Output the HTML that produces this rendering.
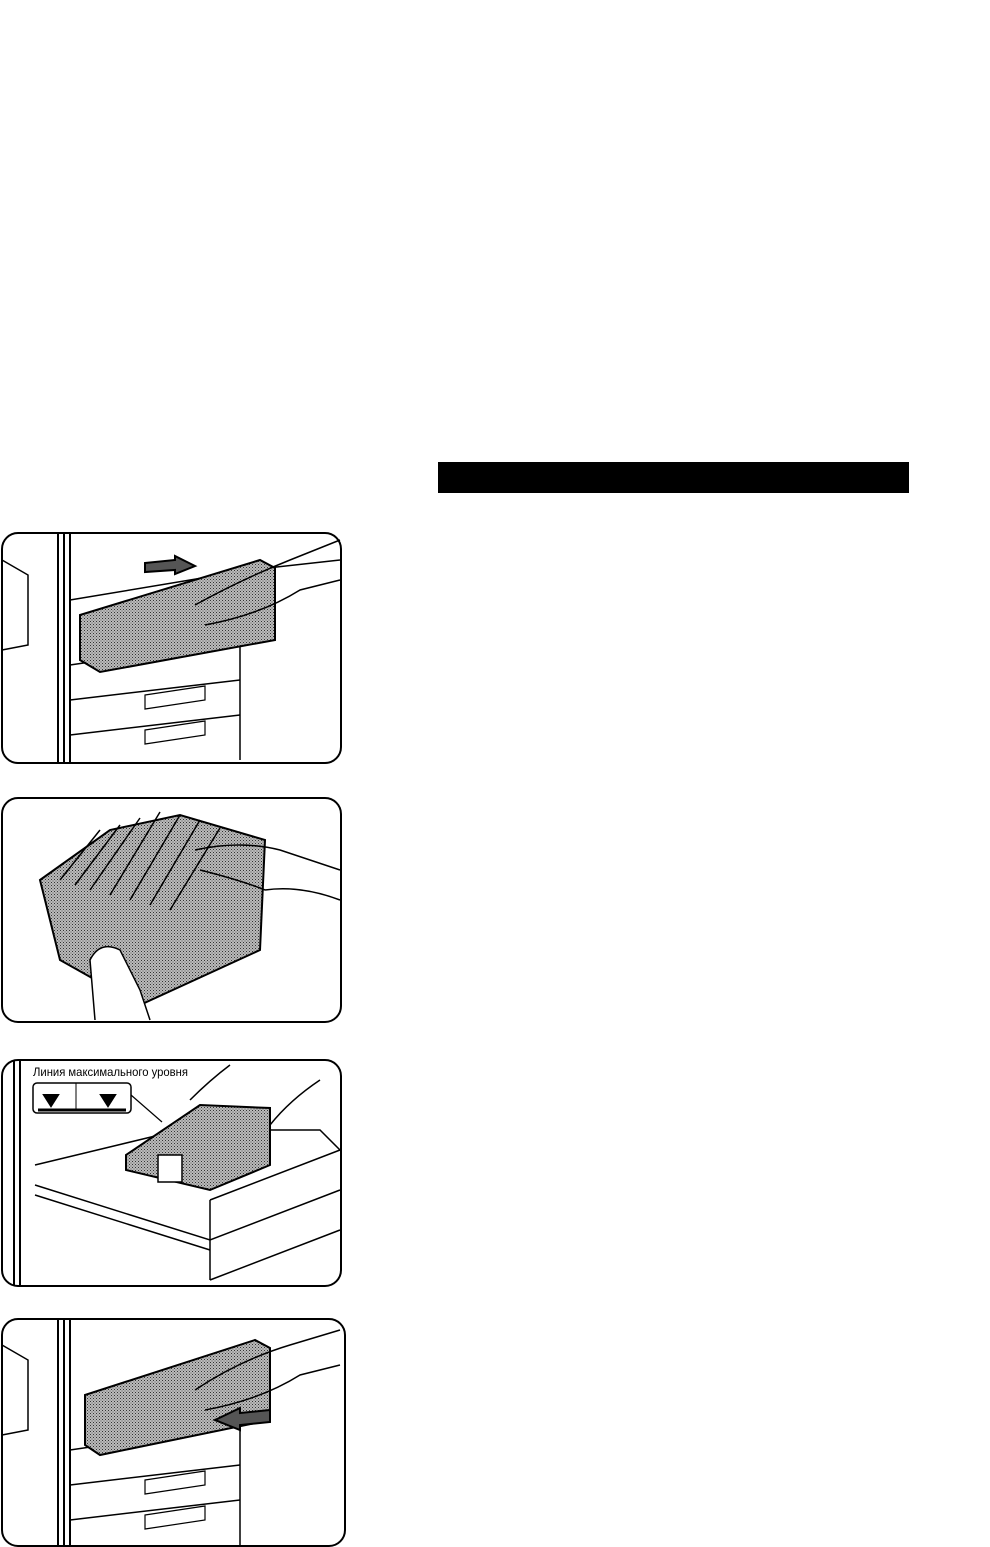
<!DOCTYPE html>
<html><head><meta charset="utf-8"><style>
html,body{margin:0;padding:0;background:#fff;}
body{width:990px;height:1547px;position:relative;overflow:hidden;font-family:"Liberation Sans",sans-serif;}
.bar{position:absolute;left:438px;top:462px;width:471px;height:31px;background:#000;}
svg{position:absolute;left:0;top:0;}
</style></head><body>
<div class="bar"></div>
<svg width="990" height="1547" viewBox="0 0 990 1547">
<defs>
<pattern id="g" width="3" height="3" patternUnits="userSpaceOnUse"><rect width="3" height="3" fill="#bbb"/><rect width="1" height="1" fill="#333"/><rect x="1.5" y="1.5" width="1" height="1" fill="#555"/></pattern>
</defs>
<g fill="none" stroke="#000" stroke-width="2">
<!-- Panel 1 -->
<rect x="2" y="533" width="339" height="230" rx="16"/>
<line x1="58" y1="534" x2="58" y2="762"/><line x1="64" y1="534" x2="64" y2="762"/><line x1="70" y1="534" x2="70" y2="762"/>
<path d="M2 560 L28 575 L28 645 L2 650" stroke-width="1.5"/>
<path d="M70 600 L250 570 L340 560" stroke-width="1.5"/>
<path d="M70 665 L240 640 L240 760" stroke-width="1.5"/>
<path d="M70 700 L240 680" stroke-width="1.5"/><path d="M70 735 L240 715" stroke-width="1.5"/>
<path d="M145 695 L205 686 L205 700 L145 709 Z M145 730 L205 721 L205 735 L145 744Z" stroke-width="1.2"/>
<path d="M80 615 L260 560 L275 568 L275 640 L100 672 L80 660 Z" fill="url(#g)"/>
<path d="M195 605 Q240 580 290 560 L340 540 M205 625 Q260 615 300 590 L340 580" stroke-width="1.5"/>
<path d="M145 563 L175 560 L175 556 L195 566 L175 574 L175 570 L145 572Z" fill="#555"/>
<!-- Panel 2 -->
<rect x="2" y="798" width="339" height="224" rx="16"/>
<path d="M40 880 L110 830 L180 815 L265 840 L260 950 L140 1005 L60 960 Z" fill="url(#g)"/>
<path d="M60 880 L100 830 M75 885 L120 825 M90 890 L140 818 M110 895 L160 812 M130 900 L180 815 M150 905 L200 820 M170 910 L220 828" stroke-width="1.5"/>
<path d="M195 850 Q240 840 280 850 L340 870 M265 890 Q300 885 340 900 M200 870 Q240 880 265 890" stroke-width="1.5"/>
<path d="M95 1020 L90 960 Q100 940 120 950 L140 990 L150 1020" stroke-width="1.5" fill="#fff"/>
<!-- Panel 3 -->
<rect x="2" y="1060" width="339" height="226" rx="16"/>
<line x1="14" y1="1060" x2="14" y2="1286"/><line x1="20" y1="1060" x2="20" y2="1286"/>
<rect x="33" y="1083" width="98" height="30" rx="4" stroke-width="1.5"/>
<path d="M44 1095 L58 1095 L51 1106Z M101 1095 L115 1095 L108 1106Z" fill="#000"/>
<line x1="38" y1="1110" x2="126" y2="1110" stroke-width="3"/><line x1="76" y1="1083" x2="76" y2="1110" stroke-width="1"/>
<path d="M131 1095 L162 1122" stroke-width="1.2"/>
<path d="M35 1165 L180 1130 L320 1130 L340 1150" stroke-width="1.5"/>
<path d="M35 1185 L210 1240 L340 1190 M35 1195 L210 1250" stroke-width="1.5"/>
<path d="M210 1200 L210 1280 M210 1200 L340 1150 M210 1280 L340 1230" stroke-width="1.5"/>
<path d="M126 1155 L200 1105 L270 1108 L270 1165 L210 1190 L126 1170Z" fill="url(#g)"/>
<rect x="158" y="1155" width="24" height="27" stroke-width="1.5" fill="#fff"/>
<path d="M190 1100 Q210 1080 230 1065 M270 1125 Q290 1100 320 1080" stroke-width="1.5"/>
<text x="33" y="1076" font-family="Liberation Sans, sans-serif" font-size="12" fill="#000" stroke="none" textLength="155" lengthAdjust="spacingAndGlyphs">Линия максимального уровня</text>
<!-- Panel 4 -->
<rect x="2" y="1319" width="343" height="227" rx="16"/>
<line x1="58" y1="1320" x2="58" y2="1546"/><line x1="64" y1="1320" x2="64" y2="1546"/><line x1="70" y1="1320" x2="70" y2="1546"/>
<path d="M2 1345 L28 1360 L28 1430 L2 1435" stroke-width="1.5"/>
<path d="M70 1450 L240 1425 L240 1546" stroke-width="1.5"/>
<path d="M70 1485 L240 1465" stroke-width="1.5"/><path d="M70 1520 L240 1500" stroke-width="1.5"/>
<path d="M145 1480 L205 1471 L205 1485 L145 1494 Z M145 1515 L205 1506 L205 1520 L145 1529Z" stroke-width="1.2"/>
<path d="M85 1395 L255 1340 L270 1348 L270 1420 L100 1455 L85 1445 Z" fill="url(#g)"/>
<path d="M195 1390 Q240 1360 290 1345 L340 1330 M205 1410 Q260 1400 300 1375 L340 1365" stroke-width="1.5"/>
<path d="M270 1410 L240 1413 L240 1408 L215 1420 L240 1430 L240 1425 L270 1422Z" fill="#555"/>
</g>
</svg>
</body></html>
